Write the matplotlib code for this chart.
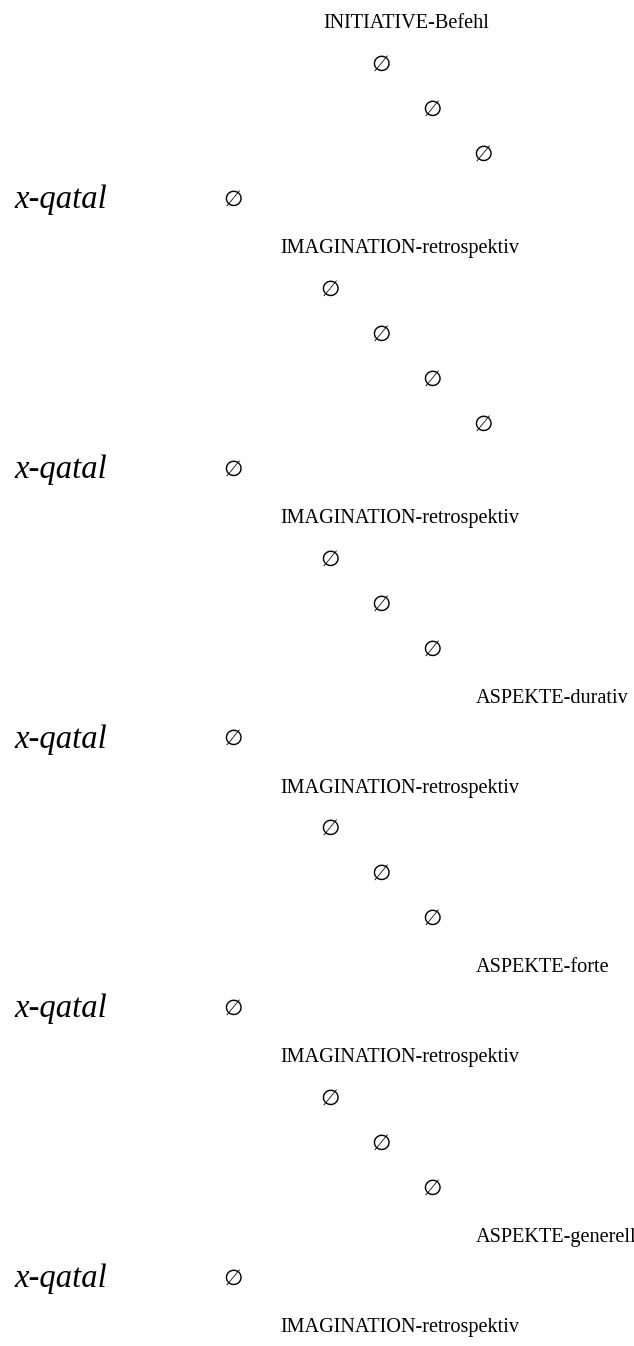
import matplotlib
matplotlib.use("Agg")
import matplotlib.pyplot as plt

# one entry per line of the diagram, top to bottom
labels = ["INITIATIVE-Befehl", "∅", "∅", "∅", "x-qatal",
          "IMAGINATION-retrospektiv", "∅", "∅", "∅", "∅", "x-qatal",
          "IMAGINATION-retrospektiv", "∅", "∅", "∅", "ASPEKTE-durativ", "x-qatal",
          "IMAGINATION-retrospektiv", "∅", "∅", "∅", "ASPEKTE-forte", "x-qatal",
          "IMAGINATION-retrospektiv", "∅", "∅", "∅", "ASPEKTE-generell", "x-qatal",
          "IMAGINATION-retrospektiv"]
# indentation level of each empty node
empty_depth = [None, 1, 2, 3, None,
               None, 0, 1, 2, 3, None,
               None, 0, 1, 2, None, None,
               None, 0, 1, 2, None, None,
               None, 0, 1, 2, None, None,
               None]

row_y0, row_step = 21.5, 44.95
depth_x0, depth_step = 330, 51
label_left = {"INITIATIVE": 323, "IMAGINATION": 280, "ASPEKTE": 476}
verb_x, verb_empty_x = 14, 233

serif = ["Liberation Serif", "DejaVu Serif", "DejaVu Sans"]

fig = plt.figure(figsize=(6.34, 13.46), dpi=100)
ax = fig.add_axes([0, 0, 1, 1])
ax.set_xlim(0, 634)
ax.set_ylim(1346, 0)
ax.axis("off")

for i, (lab, d) in enumerate(zip(labels, empty_depth)):
    y = row_y0 + row_step * i
    if lab == "∅":
        ax.text(depth_x0 + depth_step * d, y, lab, ha="center", va="center",
                fontsize=16, family=serif)
    elif lab == "x-qatal":
        ax.text(verb_x, y + 7, lab, ha="left", va="baseline", fontsize=23.5,
                style="italic", family=serif)
        ax.text(verb_empty_x, y, "∅", ha="center", va="center",
                fontsize=16, family=serif)
    else:
        ax.text(label_left[lab.split("-")[0]], y + 7, lab, ha="left",
                va="baseline", fontsize=14.6, family=serif)

fig.savefig("out.png", dpi=100)
